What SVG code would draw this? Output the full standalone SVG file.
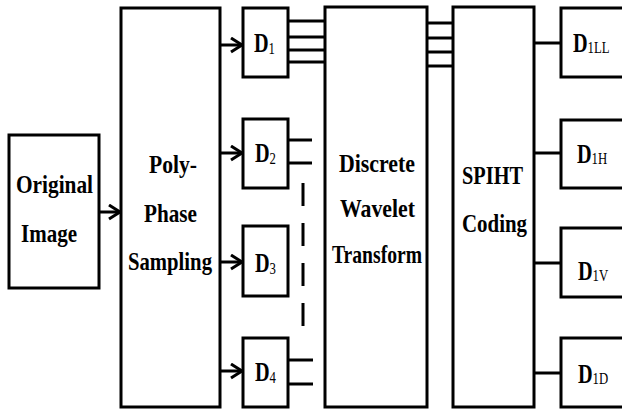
<svg xmlns="http://www.w3.org/2000/svg" width="622" height="410" viewBox="0 0 622 410">
<defs>
<style>
.box{fill:#fff;stroke:#000;stroke-width:3}
.ln{stroke:#000;stroke-width:3;fill:none}
.lbl{font-family:"Liberation Serif","Times New Roman",serif;font-weight:bold;font-size:26px;fill:#000}
.dl{font-family:"Liberation Serif","Times New Roman",serif;font-weight:bold;font-size:27px;fill:#000}
.sub{font-weight:normal;font-size:17px}
</style>
<marker id="arr" markerUnits="userSpaceOnUse" markerWidth="14" markerHeight="18" refX="12" refY="8" orient="auto" viewBox="0 0 14 18">
<polyline points="1,1 12,8 1,15" fill="none" stroke="#000" stroke-width="3"/>
</marker>
</defs>
<rect width="622" height="410" fill="#fff"/>

<g id="connectors">
<line class="ln" x1="99" y1="212" x2="120" y2="212" marker-end="url(#arr)"/>
<line class="ln" x1="220" y1="45" x2="242" y2="45" marker-end="url(#arr)"/>
<line class="ln" x1="220" y1="153" x2="242" y2="153" marker-end="url(#arr)"/>
<line class="ln" x1="220" y1="262" x2="242" y2="262" marker-end="url(#arr)"/>
<line class="ln" x1="220" y1="371" x2="242" y2="371" marker-end="url(#arr)"/>
<line class="ln" x1="288" y1="21" x2="325" y2="21"/>
<line class="ln" x1="288" y1="37" x2="325" y2="37"/>
<line class="ln" x1="288" y1="50" x2="325" y2="50"/>
<line class="ln" x1="288" y1="62" x2="325" y2="62"/>
<line class="ln" x1="288" y1="140" x2="312" y2="140"/>
<line class="ln" x1="288" y1="163" x2="312" y2="163"/>
<line class="ln" x1="288" y1="360" x2="313" y2="360"/>
<line class="ln" x1="288" y1="384" x2="313" y2="384"/>
<line class="ln" x1="303" y1="183" x2="303" y2="328" stroke-dasharray="23 17"/>
<line class="ln" x1="427" y1="23" x2="453" y2="23"/>
<line class="ln" x1="427" y1="38" x2="453" y2="38"/>
<line class="ln" x1="427" y1="52" x2="453" y2="52"/>
<line class="ln" x1="427" y1="66" x2="453" y2="66"/>
<line class="ln" x1="534" y1="43" x2="561" y2="43"/>
<line class="ln" x1="534" y1="153" x2="561" y2="153"/>
<line class="ln" x1="534" y1="263" x2="561" y2="263"/>
<line class="ln" x1="534" y1="373" x2="561" y2="373"/>
</g>

<g id="original">
<rect class="box" x="9" y="135" width="90" height="153"/>
<text class="lbl" x="54.5" y="193" text-anchor="middle" textLength="77" lengthAdjust="spacingAndGlyphs">Original</text>
<text class="lbl" x="49" y="242" text-anchor="middle" textLength="56" lengthAdjust="spacingAndGlyphs">Image</text>
</g>

<g id="polyphase">
<rect class="box" x="121" y="8" width="99" height="399"/>
<text class="lbl" x="173" y="173" text-anchor="middle" textLength="48" lengthAdjust="spacingAndGlyphs">Poly-</text>
<text class="lbl" x="170.5" y="222" text-anchor="middle" textLength="53" lengthAdjust="spacingAndGlyphs">Phase</text>
<text class="lbl" x="170" y="270" text-anchor="middle" textLength="84" lengthAdjust="spacingAndGlyphs">Sampling</text>
</g>

<g id="d1">
<rect class="box" x="243" y="8" width="45" height="69"/>
<text class="dl" transform="translate(254,52) scale(0.75,1)">D<tspan class="sub" dy="2">1</tspan></text>
</g>
<g id="d2">
<rect class="box" x="243" y="119" width="45" height="69"/>
<text class="dl" transform="translate(255,162) scale(0.75,1)">D<tspan class="sub" dy="2">2</tspan></text>
</g>
<g id="d3">
<rect class="box" x="243" y="226" width="45" height="70"/>
<text class="dl" transform="translate(255,272) scale(0.75,1)">D<tspan class="sub" dy="2">3</tspan></text>
</g>
<g id="d4">
<rect class="box" x="243" y="338" width="45" height="69"/>
<text class="dl" transform="translate(255,381) scale(0.75,1)">D<tspan class="sub" dy="2">4</tspan></text>
</g>

<g id="dwt">
<rect class="box" x="325" y="7" width="102" height="400"/>
<text class="lbl" x="377" y="172" text-anchor="middle" textLength="76" lengthAdjust="spacingAndGlyphs">Discrete</text>
<text class="lbl" x="377.5" y="217" text-anchor="middle" textLength="75" lengthAdjust="spacingAndGlyphs">Wavelet</text>
<text class="lbl" x="377" y="263" text-anchor="middle" textLength="90" lengthAdjust="spacingAndGlyphs">Transform</text>
</g>

<g id="spiht">
<rect class="box" x="453" y="7" width="81" height="400"/>
<text class="lbl" x="492.5" y="184" text-anchor="middle" textLength="61" lengthAdjust="spacingAndGlyphs">SPIHT</text>
<text class="lbl" x="494.5" y="232" text-anchor="middle" textLength="65" lengthAdjust="spacingAndGlyphs">Coding</text>
</g>

<g id="d1ll">
<rect class="box" x="561" y="8" width="80" height="69"/>
<text class="dl" transform="translate(573,52) scale(0.75,1)">D<tspan class="sub" dy="1">1LL</tspan></text>
</g>
<g id="d1h">
<rect class="box" x="561" y="120" width="80" height="68"/>
<text class="dl" transform="translate(577,163) scale(0.75,1)">D<tspan class="sub" dy="1">1H</tspan></text>
</g>
<g id="d1v">
<rect class="box" x="561" y="228" width="80" height="69"/>
<text class="dl" transform="translate(578,280) scale(0.75,1)">D<tspan class="sub" dy="1">1V</tspan></text>
</g>
<g id="d1d">
<rect class="box" x="561" y="338" width="80" height="69"/>
<text class="dl" transform="translate(578,383) scale(0.75,1)">D<tspan class="sub" dy="1">1D</tspan></text>
</g>
</svg>
